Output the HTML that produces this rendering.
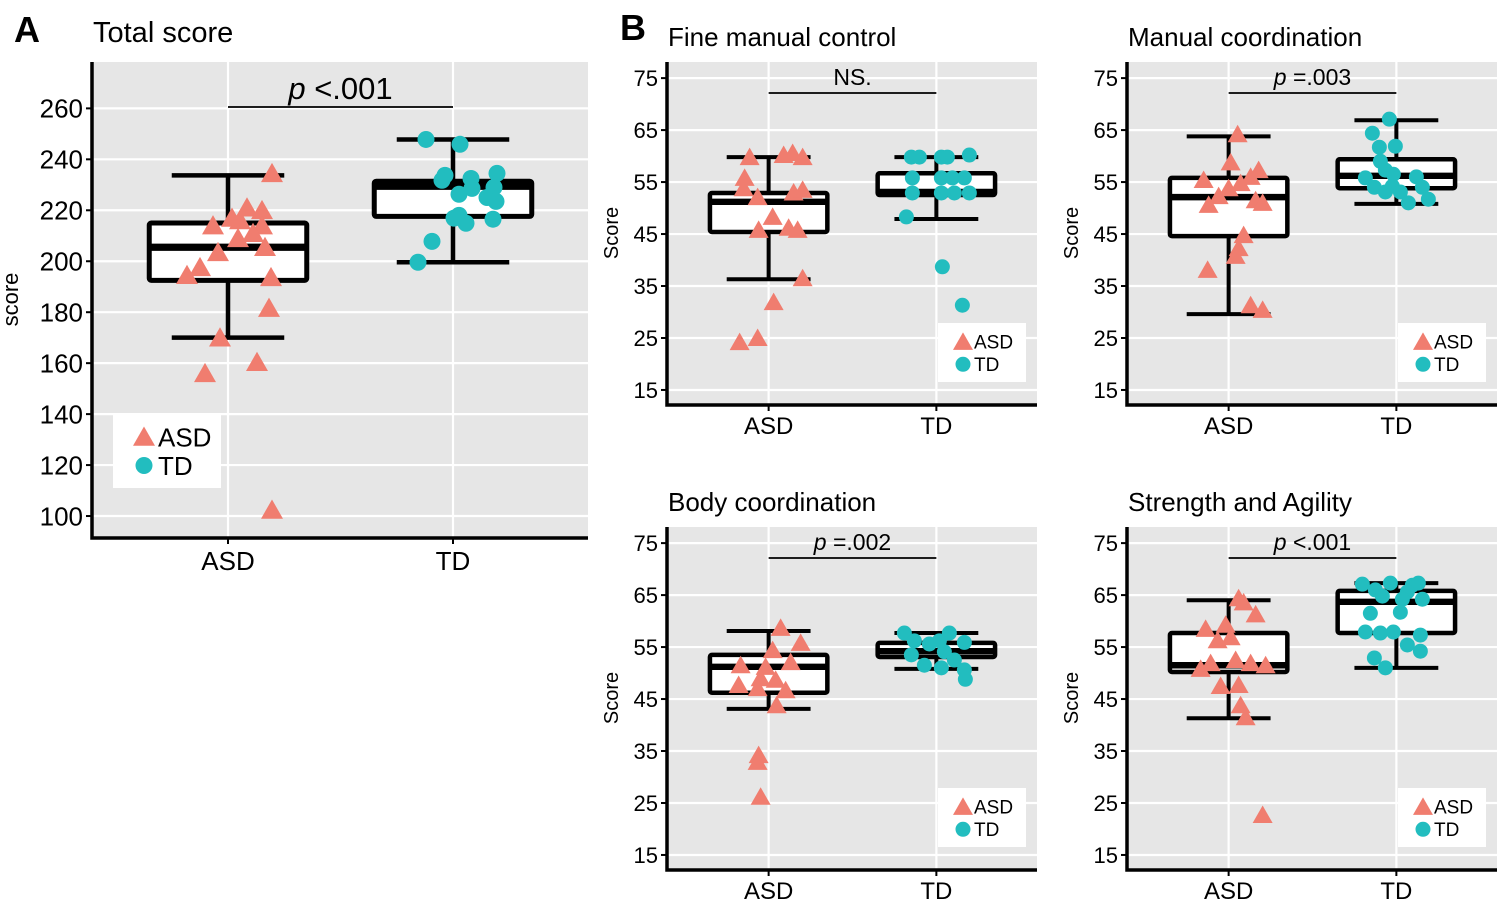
<!DOCTYPE html>
<html><head><meta charset="utf-8">
<style>
html,body{margin:0;padding:0;background:#fff;}
svg{display:block;font-family:"Liberation Sans",Arial,sans-serif;}
</style></head>
<body>
<svg id="fig" width="1500" height="903" viewBox="0 0 1500 903" xmlns="http://www.w3.org/2000/svg"></svg>
<script>
// ---------- DATA ----------
const categories = ["ASD", "TD"];
// Panel A: Total score
const aTicks = [100,120,140,160,180,200,220,240,260];
const aAsdStats = [170, 192.5, 205.5, 215, 233.7];
const aTdStats = [199.6, 217.6, 229.4, 231.4, 247.8];
const aAsdVals = [234.5,221,220,217,214,216,214,211,209,205.5,203.5,197.6,194.5,193.7,181.6,170,160.4,156,102.4];
const aAsdJit = [44,19,34,4,-15,12,34,25,10,37,-10,-28,-41,43,41,-8,29,-23,44];
const aTdVals = [247.8,245.9,233.7,231.8,232.5,234.5,228.6,229,226.3,225,223.5,218,216.9,214.9,216.5,207.8,199.6];
const aTdJit = [-27,7,-8,-11,18,44,19,41,6,34,43,6,1,13,40,-21,-35];
// Panel B1: Fine manual control
const fTicks = [15,25,35,45,55,65,75];
const fAsdStats = [36.3, 45.4, 51.2, 52.9, 59.8];
const fTdStats = [47.9, 52.5, 53.1, 56.7, 59.8];
const fAsdVals = [59.8,60.2,60.6,59.8,55.8,53.8,52.1,53,53.5,48.3,45.8,46.2,45.8,36.5,31.9,24.2,25];
const fAsdJit = [-19,15,24,34,-24,-25,-11,25,34,4,-10,20,29,34,5,-29,-11];
const fTdVals = [59.8,59.8,59.8,59.8,60.2,55.8,55.8,55.8,55.8,52.9,52.9,52.9,52.9,48.3,38.7,31.3];
const fTdJit = [-25,-17,5,11,33,-24,5,16,28,-24,5,18,33,-30,6,26];
// Panel B2: Manual coordination
const mAsdStats = [29.6, 44.6, 52.1, 55.8, 63.8];
const mTdStats = [50.8, 53.8, 56.2, 59.4, 66.9];
const mAsdVals = [64.2,58.8,57.3,55.4,56,54.8,53.8,52.3,50.6,51.5,51,44.8,42.3,40.8,38.1,31.3,30.4];
const mAsdJit = [9,2,30,-25,22,12,0,-10,-20,27,34,15,10,7,-21,22,34];
const mTdVals = [67.1,64.4,61.7,61.9,59,57.3,56.5,55.8,56,54,54.2,54,53.1,53.1,51.7,51];
const mTdJit = [-7,-24,-17,-1,-16,-11,-3,-31,20,-22,-4,26,4,-11,32,12];
// Panel B3: Body coordination
const bAsdStats = [43.1, 46.2, 51.2, 53.5, 58.1];
const bTdStats = [50.8, 53.1, 54.2, 55.8, 57.7];
const bAsdVals = [58.7,54.4,55.8,51.5,51.2,52.1,49,48.7,47.7,46.7,47.1,43.8,34.2,32.9,26.2];
const bAsdJit = [12,4,32,-28,-3,22,-8,7,-30,17,-11,8,-10,-11,-8];
const bTdVals = [57.7,57.7,56.2,56.2,55.6,55.9,53.5,54.1,51.5,51,50.6,48.8,52.5];
const bTdJit = [-32,13,-22,3,-7,28,-25,8,-12,5,28,29,18];
// Panel B4: Strength and Agility
const sAsdStats = [41.3, 50.2, 51.5, 57.7, 64];
const sTdStats = [51, 57.7, 63.7, 65.8, 67.3];
const sAsdVals = [64.4,63.6,58.5,59.3,61.3,56.3,56.9,50.8,51.9,52.5,51.9,51.5,47.7,47.5,43.8,41.5,22.7];
const sAsdJit = [10,15,-23,-3,27,-11,2,-28,-18,7,22,37,10,-8,12,17,34];
const sTdVals = [67.1,67.3,66.9,67.3,66,65.6,64.8,64.2,64.2,61.5,61.7,57.7,57.9,57.9,57.3,55.4,52.9,54.2,51];
const sTdJit = [-34,-6,16,22,-21,11,-14,6,26,-26,4,-16,-31,-3,24,11,-22,24,-11];

// ---------- LAYOUT ----------
const panels = [
  {key:"total", title:"Total score", tx:93, ty:42, tsize:29, x0:93, x1:588, y0:62, y1:537, dmin:91.77, dmax:278.2,
   ticks:aTicks, asdS:aAsdStats, tdS:aTdStats, asdV:aAsdVals, asdJ:aAsdJit, tdV:aTdVals, tdJ:aTdJit,
   sig:"<.001", sigY:107, tick:26, cat:26, ylab:"score", ylabX:18, tri:11, cr:8.5, leg:[113,413,108,75,26],
   sigSize:31, catY:570},
  {key:"fine", title:"Fine manual control", tx:668, ty:46, tsize:26, x0:668, x1:1037, y0:62, y1:404, dmin:12.3, dmax:78.1,
   ticks:fTicks, asdS:fAsdStats, tdS:fTdStats, asdV:fAsdVals, asdJ:fAsdJit, tdV:fTdVals, tdJ:fTdJit,
   sig:"NS.", sigY:93, tick:22, cat:24, ylab:"Score", ylabX:618, tri:10, cr:7.5, leg:[938,323,88,59,19],
   sigSize:23, catY:434},
  {key:"manual", title:"Manual coordination", tx:1128, ty:46, tsize:26, x0:1128, x1:1497, y0:62, y1:404, dmin:12.3, dmax:78.1,
   ticks:fTicks, asdS:mAsdStats, tdS:mTdStats, asdV:mAsdVals, asdJ:mAsdJit, tdV:mTdVals, tdJ:mTdJit,
   sig:"=.003", sigY:93, tick:22, cat:24, ylab:"Score", ylabX:1078, tri:10, cr:7.5, leg:[1398,323,88,59,19],
   sigSize:23, catY:434},
  {key:"body", title:"Body coordination", tx:668, ty:511, tsize:26, x0:668, x1:1037, y0:527, y1:869, dmin:12.3, dmax:78.1,
   ticks:fTicks, asdS:bAsdStats, tdS:bTdStats, asdV:bAsdVals, asdJ:bAsdJit, tdV:bTdVals, tdJ:bTdJit,
   sig:"=.002", sigY:558, tick:22, cat:24, ylab:"Score", ylabX:618, tri:10, cr:7.5, leg:[938,788,88,59,19],
   sigSize:23, catY:899},
  {key:"strength", title:"Strength and Agility", tx:1128, ty:511, tsize:26, x0:1128, x1:1497, y0:527, y1:869, dmin:12.3, dmax:78.1,
   ticks:fTicks, asdS:sAsdStats, tdS:sTdStats, asdV:sAsdVals, asdJ:sAsdJit, tdV:sTdVals, tdJ:sTdJit,
   sig:"<.001", sigY:558, tick:22, cat:24, ylab:"Score", ylabX:1078, tri:10, cr:7.5, leg:[1398,788,88,59,19],
   sigSize:23, catY:899}
];

const NS = "http://www.w3.org/2000/svg";
const svg = document.getElementById("fig");
function mk(tag, attrs, parent){
  const e = document.createElementNS(NS, tag);
  for (const k in attrs) e.setAttribute(k, attrs[k]);
  (parent||svg).appendChild(e);
  return e;
}
const RED = "#F07D6F", TEAL = "#22BDBF";
function triPts(cx, cy, s){
  return `${cx-s},${cy+s*0.8} ${cx+s},${cy+s*0.8} ${cx},${cy-s*0.95}`;
}

panels.forEach(p => {
  const g = mk("g", {});
  
  
  const y = v => p.y1 - (v - p.dmin) / (p.dmax - p.dmin) * (p.y1 - p.y0);
  const u = (p.x1 - p.x0) / 2.2;
  const x = i => p.x0 + (0.6 + i) * u;

  const bg = mk("rect", {x:p.x0, y:p.y0, width:p.x1-p.x0, height:p.y1-p.y0, fill:"#e6e6e6"}, g);
  
  
  // grid
  p.ticks.forEach(t => {
    const gl = mk("line", {x1:p.x0, x2:p.x1, y1:y(t), y2:y(t), stroke:"#fff", "stroke-width":2.2}, g);
    
    
  });
  categories.forEach((c,i) => {
    const gl = mk("line", {x1:x(i), x2:x(i), y1:p.y0, y2:p.y1, stroke:"#fff", "stroke-width":2.2}, g);
    
    
  });
  // sig bracket
  const sl = mk("line", {x1:x(0), x2:x(1), y1:p.sigY, y2:p.sigY, stroke:"#000", "stroke-width":1.8}, g);
  
  
  const st = mk("text", {x:(x(0)+x(1))/2, y:p.sigY-8, "text-anchor":"middle", "font-size":p.sigSize, fill:"#000"}, g);
  
  
  if (p.sig === "NS.") st.textContent = "NS.";
  else {
    const i1 = mk("tspan", {"font-style":"italic"}, st); i1.textContent = "p ";
    const i2 = mk("tspan", {}, st); i2.textContent = p.sig;
  }
  // boxes
  [[p.asdS,0],[p.tdS,1]].forEach(([s,i]) => {
    const bx = mk("g", {}, g);
    
    
    const sw = p.key==="total" ? 4.5 : 4;
    mk("line", {x1:x(i), x2:x(i), y1:y(s[4]), y2:y(s[3]), stroke:"#000", "stroke-width":sw}, bx);
    mk("line", {x1:x(i), x2:x(i), y1:y(s[1]), y2:y(s[0]), stroke:"#000", "stroke-width":sw}, bx);
    mk("line", {x1:x(i)-0.25*u, x2:x(i)+0.25*u, y1:y(s[4]), y2:y(s[4]), stroke:"#000", "stroke-width":sw}, bx);
    mk("line", {x1:x(i)-0.25*u, x2:x(i)+0.25*u, y1:y(s[0]), y2:y(s[0]), stroke:"#000", "stroke-width":sw}, bx);
    mk("rect", {x:x(i)-0.35*u, y:y(s[3]), width:0.7*u, height:y(s[1])-y(s[3]), fill:"#fff", stroke:"#000", "stroke-width":sw+0.5, rx:2}, bx);
    mk("line", {x1:x(i)-0.35*u, x2:x(i)+0.35*u, y1:y(s[2]), y2:y(s[2]), stroke:"#000", "stroke-width":sw*1.6}, bx);
  });
  // points
  p.asdV.forEach((v,k) => {
    const m = mk("polygon", {points:triPts(x(0)+p.asdJ[k], y(v), p.tri), fill:RED}, g);
    
    
  });
  p.tdV.forEach((v,k) => {
    const m = mk("circle", {cx:x(1)+p.tdJ[k], cy:y(v), r:p.cr, fill:TEAL}, g);
    
    
  });
  // legend
  const [lx,ly,lw,lh,lf] = p.leg;
  const lg = mk("g", {}, g);
  
  
  mk("rect", {x:lx, y:ly, width:lw, height:lh, fill:"#fff"}, lg);
  const big = p.key==="total";
  const r1 = ly + lh*0.32, r2 = ly + lh*0.7;
  mk("polygon", {points:triPts(lx+(big?31:25), r1, p.tri), fill:RED}, lg);
  mk("circle", {cx:lx+(big?31:25), cy:r2, r:p.cr, fill:TEAL}, lg);
  const t1 = mk("text", {x:lx+(big?45:36), y:r1+lf*0.36, "font-size":lf}, lg); t1.textContent = "ASD";
  
  
  const t2 = mk("text", {x:lx+(big?45:36), y:r2+lf*0.36, "font-size":lf}, lg); t2.textContent = "TD";
  
  
  // axes
  const ax = mk("path", {d:`M${p.x0-1},${p.y0} L${p.x0-1},${p.y1+1} L${p.x1},${p.y1+1}`, fill:"none", stroke:"#000", "stroke-width":3.5}, g);
  
  
  p.ticks.forEach(t => {
    mk("line", {x1:p.x0-7, x2:p.x0-1, y1:y(t), y2:y(t), stroke:"#000", "stroke-width":2}, g);
    const tl = mk("text", {x:p.x0-10, y:y(t)+p.tick*0.36, "text-anchor":"end", "font-size":p.tick, fill:"#000"}, g);
    tl.textContent = t;
    
    
  });
  categories.forEach((c,i) => {
    mk("line", {x1:x(i), x2:x(i), y1:p.y1+1, y2:p.y1+7, stroke:"#000", "stroke-width":2}, g);
    const cl = mk("text", {x:x(i), y:p.catY, "text-anchor":"middle", "font-size":p.cat, fill:"#000"}, g);
    cl.textContent = c;
    
    
  });
  const yl = mk("text", {x:p.ylabX, y:(p.y0+p.y1)/2, "text-anchor":"middle", "font-size":big?22:20,
    transform:`rotate(-90 ${p.ylabX} ${(p.y0+p.y1)/2})`}, g);
  yl.textContent = p.ylab;
  
  
  const tt = mk("text", {x:p.tx, y:p.ty, "font-size":p.tsize, fill:"#000"}, g);
  tt.textContent = p.title;
  
  
});

const la = mk("text", {x:14, y:42, "font-size":36, "font-weight":"bold"}); la.textContent = "A";


const lb = mk("text", {x:620, y:40, "font-size":36, "font-weight":"bold"}); lb.textContent = "B";


</script>
</body></html>
